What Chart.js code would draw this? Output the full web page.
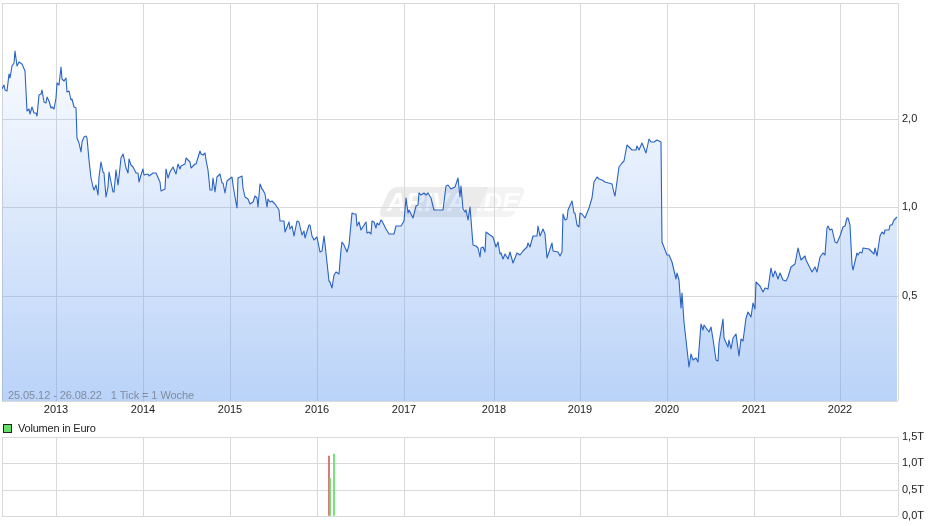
<!DOCTYPE html>
<html lang="de">
<head>
<meta charset="utf-8">
<title>Kursverlauf</title>
<script src="https://cdn.jsdelivr.net/npm/chart.js@4"></script>
<style>
    html, body { margin: 0; padding: 0; background: #fff; }
    body { position: relative; width: 940px; height: 526px; overflow: hidden; font-family: "Liberation Sans", Arial, sans-serif; font-size: 11px; }
    canvas { position: absolute; left: 0; }
    #priceChart { top: 0; z-index: 2; }
    #volumeChart { top: 430px; z-index: 2; }
    .logo { position: absolute; left: 378px; top: 187px; width: 148px; height: 30px; z-index: 1; }
    .logo i { position: absolute; top: 0; height: 30px; transform: skewX(-24deg); }
    .logo i.a { left: 6px; width: 98px; background: #ebebeb; border-radius: 7px 0 0 7px; }
    .logo i.b { left: 104px; width: 38px; background: #f3f3f3; border-radius: 0 7px 7px 0; }
    .logo span { position: absolute; top: 0; color: #fff; font: italic bold 26px "Liberation Sans", sans-serif; line-height: 30px; }
    .range { position: absolute; left: 8px; top: 389px; color: rgba(70, 70, 70, 0.5); z-index: 3; white-space: pre; letter-spacing: -0.08px; }
    .legend { position: absolute; left: 18px; top: 422px; color: #222; z-index: 3; letter-spacing: -0.2px; }
    .legend b { position: absolute; left: -15px; top: 2px; width: 7px; height: 7px; background: #66dd66; border: 1px solid #222; }
</style>
</head>
<body>
<div class="logo"><i class="a"></i><i class="b"></i><span style="left:9px">ARIVA</span><span style="left:98px">.DE</span></div>
<canvas id="priceChart" width="940" height="420"></canvas>
<div class="range">25.05.12 - 26.08.22   1 Tick = 1 Woche</div>
<div class="legend"><b></b>Volumen in Euro</div>
<canvas id="volumeChart" width="940" height="96"></canvas>
<script>
// Kurs: [Woche seit 25.05.12, Schlusskurs]
const closes = [
    [0,2.530],[1,2.596],[2,2.510],[3,2.491],[4,2.845],[5,2.757],[6,3.012],[7,3.101],[8,3.388],[9,3.029],[10,3.126],[12,3.077],
    [14,2.913],[15,2.130],[16,2.164],[17,2.081],[18,2.198],[19,2.097],[20,2.097],[21,2.048],[22,2.414],[23,2.433],[24,2.510],[25,2.286],
    [26,2.268],[27,2.377],[28,2.304],[29,2.181],[30,2.198],[31,2.164],[32,2.358],[33,2.651],[34,2.592],[35,3.005],[36,2.736],[37,2.693],
    [38,2.757],[39,2.472],[40,2.491],[41,2.322],[42,2.340],[43,2.198],[44,2.181],[45,1.724],[46,1.657],[47,1.544],[48,1.670],[49,1.737],
    [50,1.751],[51,1.724],[52,1.450],[53,1.260],[54,1.175],[55,1.147],[56,1.193],[57,1.104],[58,1.270],[59,1.428],[60,1.320],[61,1.310],
    [62,1.087],[63,1.175],[64,1.320],[65,1.221],[66,1.130],[67,1.130],[68,1.341],[69,1.193],[70,1.270],[71,1.473],[72,1.520],[73,1.473],
    [74,1.362],[75,1.310],[76,1.462],[77,1.395],[78,1.373],[80,1.310],[81,1.310],[82,1.221],[83,1.290],[84,1.352],[85,1.290],[87,1.300],
    [88,1.280],[90,1.310],[92,1.310],[94,1.221],[95,1.138],[97,1.156],[98,1.352],[99,1.260],[100,1.320],[102,1.373],[104,1.300],[105,1.406],
    [106,1.352],[107,1.384],[109,1.406],[110,1.473],[112,1.428],[113,1.362],[115,1.406],[116,1.406],[118,1.557],[119,1.520],[120,1.508],[121,1.532],
    [122,1.450],[123,1.341],[124,1.147],[125,1.147],[126,1.260],[127,1.130],[128,1.270],[130,1.300],[131,1.212],[132,1.212],[133,1.121],[134,1.231],
    [137,1.270],[138,1.193],[139,1.087],[140,0.997],[141,1.260],[143,1.280],[144,1.165],[145,1.087],[147,1.070],[148,1.029],[150,1.045],[151,1.095],
    [152,1.078],[153,1.005],[154,1.202],[155,1.156],[156,1.147],[157,1.112],[158,1.005],[159,1.070],[160,1.045],[161,1.053],[163,1.029],[165,0.982],
    [166,0.895],[168,0.895],[169,0.821],[171,0.888],[172,0.841],[173,0.861],[174,0.796],[176,0.895],[177,0.888],[179,0.803],[180,0.828],[181,0.784],
    [183,0.868],[184,0.868],[185,0.796],[186,0.775],[188,0.790],[190,0.706],[191,0.711],[192,0.796],[193,0.751],[195,0.563],[196,0.558],[197,0.533],
    [198,0.590],[199,0.604],[201,0.594],[202,0.717],[203,0.763],[204,0.746],[206,0.706],[207,0.746],[209,0.959],[210,0.945],[211,0.952],[212,0.861],
    [213,0.888],[214,0.834],[217,0.888],[218,0.815],[219,0.821],[220,0.809],[221,0.895],[222,0.888],[223,0.848],[224,0.881],[225,0.868],[226,0.902],
    [227,0.895],[229,0.841],[231,0.809],[232,0.809],[234,0.809],[235,0.861],[238,0.861],[240,0.895],[241,1.078],[242,0.959],[243,0.982],[245,0.916],
    [247,1.013],[248,1.021],[249,1.121],[250,1.104],[252,1.121],[253,1.104],[254,1.121],[256,1.078],[258,0.982],[259,0.975],[261,0.982],[263,0.982],
    [265,1.184],[266,1.193],[268,1.156],[270,1.175],[272,1.260],[273,1.087],[274,1.184],[275,0.990],[276,0.967],[277,0.982],[278,0.902],[279,1.005],
    [281,0.746],[283,0.740],[284,0.728],[285,0.679],[286,0.728],[287,0.734],[288,0.706],[289,0.821],[291,0.803],[293,0.790],[295,0.734],[296,0.763],
    [297,0.695],[298,0.700],[299,0.668],[300,0.695],[302,0.668],[303,0.706],[305,0.648],[307,0.700],[309,0.690],[311,0.711],[313,0.734],[314,0.757],
    [315,0.734],[317,0.796],[319,0.796],[320,0.861],[321,0.796],[323,0.841],[324,0.809],[325,0.674],[328,0.757],[329,0.711],[332,0.706],[333,0.684],
    [334,0.706],[335,0.945],[336,0.902],[337,0.909],[338,0.975],[340,1.053],[341,0.959],[342,0.959],[343,0.868],[344,0.854],[345,0.959],[346,0.952],
    [348,0.916],[350,0.997],[352,1.078],[353,1.221],[355,1.270],[356,1.250],[358,1.241],[360,1.221],[364,1.202],[365,1.121],[366,1.095],[368,1.373],
    [370,1.417],[371,1.439],[373,1.632],[376,1.570],[378,1.570],[379,1.619],[380,1.570],[382,1.657],[384,1.532],[386,1.710],[387,1.670],[389,1.670],
    [391,1.696],[393,1.670],[394,0.763],[397,0.690],[398,0.690],[400,0.653],[402,0.572],[403,0.599],[404,0.567],[405,0.455],[406,0.512],[407,0.408],
    [410,0.287],[411,0.317],[412,0.303],[414,0.308],[415,0.299],[417,0.401],[418,0.383],[419,0.398],[422,0.377],[423,0.392],[424,0.357],[426,0.303],
    [427,0.301],[428,0.346],[430,0.417],[431,0.360],[433,0.335],[434,0.354],[435,0.330],[436,0.360],[438,0.371],[440,0.312],[441,0.357],[442,0.351],
    [444,0.420],[445,0.441],[447,0.424],[448,0.473],[449,0.451],[450,0.558],[452,0.541],[454,0.517],[455,0.533],[457,0.529],[459,0.623],[460,0.581],
    [461,0.608],[462,0.599],[463,0.572],[464,0.599],[466,0.567],[468,0.563],[469,0.581],[471,0.628],[473,0.643],[475,0.728],[477,0.663],[479,0.684],
    [480,0.663],[483,0.604],[485,0.628],[486,0.604],[488,0.679],[490,0.700],[491,0.690],[492,0.848],[493,0.861],[494,0.834],[495,0.841],[497,0.763],
    [498,0.757],[500,0.796],[502,0.854],[503,0.861],[504,0.916],[505,0.916],[506,0.868],[507,0.638],[508,0.613],[510,0.700],[511,0.690],[512,0.706],
    [513,0.700],[514,0.728],[517,0.723],[520,0.695],[521,0.728],[522,0.684],[524,0.796],[525,0.821],[526,0.809],[527,0.834],[529,0.834],[530,0.868],
    [531,0.868],[532,0.902],[534,0.923]
];

// Volumen in Euro: [Woche, Betrag]
const volumeUp = [[196, 0.73e12], [198, 1.18e12]];
const volumeDown = [[195, 1.13e12]];

const yearLabels = ['2013', '2014', '2015', '2016', '2017', '2018', '2019', '2020', '2021', '2022'];
const yearWeeks = [32.35, 84.3, 136, 188, 240, 293.3, 345, 396.6, 448.5, 500.2];
const priceTicks = [0.5, 1, 2];
const priceTickLabels = ['0,5', '1,0', '2,0'];
const volumeTicks = [0, 0.5e12, 1e12, 1.5e12];
const volumeTickLabels = ['0,0T', '0,5T', '1,0T', '1,5T'];

const lastWeek = 534.6;
const priceMin = 0.2197;
const priceMax = 4.94;

const gridColor = '#d9d9d9';
const labelFont = { family: '"Liberation Sans", Arial, sans-serif', size: 11 };
const labelColor = '#222';

// die Achsen sollen keinen Platz fuer halbe Beschriftungen reservieren
function noPadding(scale) {
    scale.paddingTop = 0;
    scale.paddingBottom = 0;
    scale.paddingLeft = 0;
    scale.paddingRight = 0;
}

function xScale(showLabels) {
    return {
        type: 'linear',
        min: 0,
        max: lastWeek,
        offset: false,
        alignToPixels: true,
        grid: { color: gridColor, drawTicks: false, offset: false },
        border: { display: false },
        afterBuildTicks: (scale) => {
            scale.ticks = [0, ...yearWeeks, lastWeek].map(value => ({ value }));
        },
        afterFit: (scale) => {
            scale.height = showLabels ? 19 : 0;
            noPadding(scale);
        },
        ticks: {
            display: showLabels,
            autoSkip: false,
            maxRotation: 0,
            padding: 2,
            color: labelColor,
            font: labelFont,
            callback: (value) => {
                const i = yearWeeks.indexOf(value);
                return i >= 0 ? yearLabels[i] : '';
            }
        }
    };
}

function fillGradient(context) {
    const area = context.chart.chartArea;
    if (!area) return 'rgba(102, 157, 240, 0.2)';
    const gradient = context.chart.ctx.createLinearGradient(0, 40, 0, area.bottom);
    gradient.addColorStop(0, 'rgba(102, 157, 240, 0.02)');
    gradient.addColorStop(1, 'rgba(102, 157, 240, 0.45)');
    return gradient;
}

new Chart(document.getElementById('priceChart'), {
    type: 'line',
    data: {
        datasets: [{
            data: closes.map(([x, y]) => ({ x, y })),
            borderColor: '#2a62c2',
            borderWidth: 1.1,
            borderJoinStyle: 'round',
            pointRadius: 0,
            tension: 0,
            fill: 'start',
            backgroundColor: fillGradient
        }]
    },
    options: {
        responsive: false,
        animation: false,
        devicePixelRatio: 1,
        layout: { padding: { left: 2, top: 3, right: 0, bottom: 0 } },
        plugins: { legend: { display: false }, tooltip: { enabled: false } },
        scales: {
            x: xScale(true),
            y: {
                type: 'logarithmic',
                position: 'right',
                min: priceMin,
                max: priceMax,
                alignToPixels: true,
                grid: { color: gridColor, drawTicks: false },
                border: { display: false },
                afterBuildTicks: (scale) => {
                    scale.ticks = [priceMin, ...priceTicks, priceMax].map(value => ({ value }));
                },
                afterFit: (scale) => {
                    scale.width = 42;
                    noPadding(scale);
                },
                ticks: {
                    autoSkip: false,
                    padding: 4,
                    color: labelColor,
                    font: labelFont,
                    callback: (value) => {
                        const i = priceTicks.indexOf(value);
                        return i >= 0 ? priceTickLabels[i] : '';
                    }
                }
            }
        }
    }
});

new Chart(document.getElementById('volumeChart'), {
    type: 'bar',
    data: {
        datasets: [
            { data: volumeUp.map(([x, y]) => ({ x, y })), backgroundColor: '#5fdc5f', barThickness: 1, grouped: false },
            { data: volumeDown.map(([x, y]) => ({ x, y })), backgroundColor: '#d0605f', barThickness: 1, grouped: false }
        ]
    },
    options: {
        responsive: false,
        animation: false,
        devicePixelRatio: 1,
        layout: { padding: { left: 2, top: 7, right: 0, bottom: 10 } },
        plugins: { legend: { display: false }, tooltip: { enabled: false } },
        scales: {
            x: xScale(false),
            y: {
                type: 'linear',
                position: 'right',
                min: 0,
                max: 1.5e12,
                alignToPixels: true,
                grid: { color: gridColor, drawTicks: false },
                border: { display: false },
                afterBuildTicks: (scale) => {
                    scale.ticks = volumeTicks.map(value => ({ value }));
                },
                afterFit: (scale) => {
                    scale.width = 42;
                    noPadding(scale);
                },
                ticks: {
                    autoSkip: false,
                    padding: 4,
                    color: labelColor,
                    font: labelFont,
                    callback: (value) => volumeTickLabels[volumeTicks.indexOf(value)]
                }
            }
        }
    }
});
</script>
</body>
</html>
